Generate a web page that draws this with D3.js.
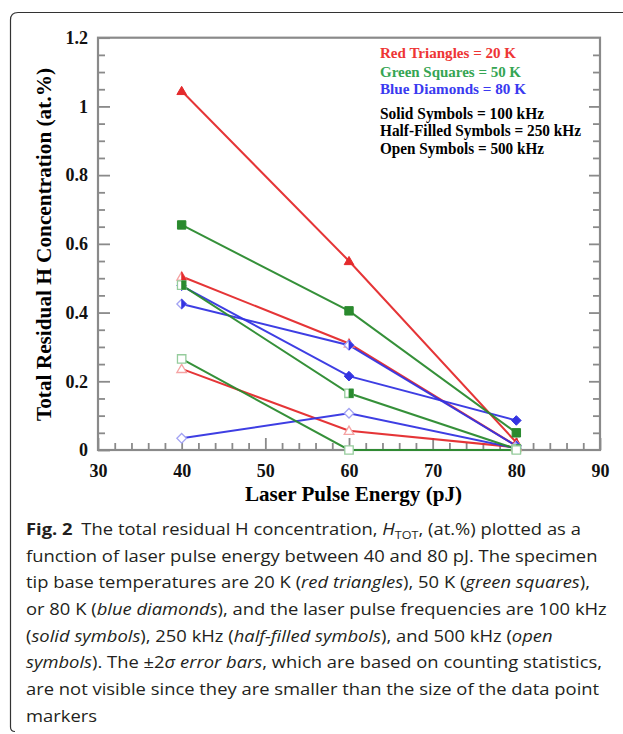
<!DOCTYPE html>
<html>
<head>
<meta charset="utf-8">
<script src="https://cdn.jsdelivr.net/npm/d3@7"></script>
<style>
  html, body { margin: 0; padding: 0; background: #fff; }
  svg { display: block; }
</style>
</head>
<body>
<script>
// ---------- data ----------
const energies = [40, 60, 80];                 // pJ
const red100   = [1.045, 0.55, 0.022];
const red250   = [0.505, 0.31, 0.012];
const red500   = [0.236, 0.056, 0.008];
const green100 = [0.655, 0.405, 0.05];
const green250 = [0.48, 0.165, 0.003];
const green500 = [0.265, 0.0, 0.0];
const blue100  = [0.478, 0.215, 0.086];
const blue250  = [0.425, 0.305, 0.012];
const blue500  = [0.034, 0.107, 0.005];
const xTicks = [30, 40, 50, 60, 70, 80, 90];
const yTicks = [0, 0.2, 0.4, 0.6, 0.8, 1, 1.2];
const legendTemps = ["Red Triangles = 20 K", "Green Squares = 50 K", "Blue Diamonds = 80 K"];
const legendFreqs = ["Solid Symbols = 100 kHz", "Half-Filled Symbols = 250 kHz", "Open Symbols = 500 kHz"];

// ---------- styles ----------
const palette = {
  red:   { line: "#e42a2c", light: "#f5a3a3", text: "#ee3535" },
  green: { line: "#2a8a2e", light: "#95cc9c", text: "#35a553" },
  blue:  { line: "#3434e2", light: "#a3a3f3", text: "#3a3af0" }
};
const series = [
  { v: red100,   c: "red",   shape: "tri", mode: "solid" },
  { v: red250,   c: "red",   shape: "tri", mode: "half" },
  { v: red500,   c: "red",   shape: "tri", mode: "open" },
  { v: blue100,  c: "blue",  shape: "dia", mode: "solid" },
  { v: blue250,  c: "blue",  shape: "dia", mode: "half" },
  { v: blue500,  c: "blue",  shape: "dia", mode: "open" },
  { v: green100, c: "green", shape: "sq",  mode: "solid" },
  { v: green250, c: "green", shape: "sq",  mode: "half" },
  { v: green500, c: "green", shape: "sq",  mode: "open" }
];

const W = 623, H = 734;
const svg = d3.select("body").append("svg").attr("width", W).attr("height", H);

// outer frame (top + left, rounded corner)
svg.append("path")
  .attr("d", "M15,731.5 Q10.5,731.5 10.5,727 L10.5,20 Q10.5,12.5 18,12.5 L623,12.5")
  .attr("fill", "none").attr("stroke", "#333").attr("stroke-width", 1.2);

const x = d3.scaleLinear().domain([30, 90]).range([98, 600]);
const y = d3.scaleLinear().domain([0, 1.2]).range([450, 37.7]);
const axisColor = "#8a8a8a";
const serif = "'Liberation Serif','Times New Roman',serif";

// minor ticks
const yMinor = d3.range(0, 1.2001, 0.05).filter(v => Math.abs((v / 0.2) - Math.round(v / 0.2)) > 1e-6);
const xMinor = d3.range(30, 90.01, 2).filter(v => v % 10 !== 0);

function styleAxis(g) {
  g.select(".domain").remove();
  g.selectAll(".tick line").attr("stroke", axisColor).attr("stroke-width", 1.8);
  g.selectAll(".tick text").attr("font-family", serif).attr("font-weight", "bold")
    .attr("font-size", 18).attr("fill", "#111");
}

// left axis
svg.append("g").attr("transform", `translate(${x(30)},0)`)
  .call(d3.axisLeft(y).tickValues(yMinor).tickSize(-7).tickFormat(""))
  .call(styleAxis);
svg.append("g").attr("transform", `translate(${x(30)},0)`)
  .call(d3.axisLeft(y).tickValues(yTicks).tickSize(-12).tickPadding(10).tickFormat(d => String(d)))
  .call(styleAxis);
// right axis
svg.append("g").attr("transform", `translate(${x(90)},0)`)
  .call(d3.axisRight(y).tickValues(yMinor).tickSize(-7).tickFormat(""))
  .call(styleAxis);
svg.append("g").attr("transform", `translate(${x(90)},0)`)
  .call(d3.axisRight(y).tickValues(yTicks.filter(v => v > 0 && v < 1.2)).tickSize(-11).tickFormat(""))
  .call(styleAxis);
// bottom axis
svg.append("g").attr("transform", `translate(0,${y(0)})`)
  .call(d3.axisBottom(x).tickValues(xMinor).tickSize(-7).tickFormat(""))
  .call(styleAxis);
svg.append("g").attr("transform", `translate(0,${y(0)})`)
  .call(d3.axisBottom(x).tickValues(xTicks).tickSize(-12).tickPadding(14).tickFormat(d => String(d)))
  .call(styleAxis);

// plot frame
svg.append("rect")
  .attr("x", x(30)).attr("y", y(1.2))
  .attr("width", x(90) - x(30)).attr("height", y(0) - y(1.2))
  .attr("fill", "none").attr("stroke", axisColor).attr("stroke-width", 2.2);

// lines
const line = d3.line().x((d, i) => x(energies[i])).y(d => y(d));
series.forEach(s => {
  svg.append("path").attr("d", line(s.v)).attr("fill", "none")
    .attr("stroke", palette[s.c].line).attr("stroke-width", 2).attr("stroke-opacity", 0.95);
});

// markers
function shapePts(shape, cx, cy, half) {
  const r = 4.2;
  if (shape === "tri") {
    const top = [cx, cy - 4.6], bl = [cx - 4.8, cy + 3.6], br = [cx + 4.8, cy + 3.6];
    return half ? [top, br, [cx, cy + 3.6]] : [top, br, bl];
  }
  if (shape === "sq") {
    return half ? [[cx, cy - r], [cx + r, cy - r], [cx + r, cy + r], [cx, cy + r]]
                : [[cx - r, cy - r], [cx + r, cy - r], [cx + r, cy + r], [cx - r, cy + r]];
  }
  const d = 4.8;
  return half ? [[cx, cy - d], [cx + d, cy], [cx, cy + d]]
              : [[cx, cy - d], [cx + d, cy], [cx, cy + d], [cx - d, cy]];
}
const poly = pts => "M" + pts.map(p => p.join(",")).join("L") + "Z";

series.forEach(s => {
  const col = palette[s.c];
  s.v.forEach((val, i) => {
    const cx = x(energies[i]), cy = y(val);
    if (s.mode === "solid") {
      svg.append("path").attr("d", poly(shapePts(s.shape, cx, cy, false)))
        .attr("fill", col.line).attr("stroke", col.line).attr("stroke-width", 1);
    } else {
      svg.append("path").attr("d", poly(shapePts(s.shape, cx, cy, false)))
        .attr("fill", "#fff").attr("stroke", col.light).attr("stroke-width", 1.3);
      if (s.mode === "half") {
        svg.append("path").attr("d", poly(shapePts(s.shape, cx, cy, true)))
          .attr("fill", col.line).attr("stroke", col.line).attr("stroke-width", 0.8);
      }
    }
  });
});

// legend
const legCols = ["red", "green", "blue"];
const legTempY = [58.3, 76.5, 94.3], legTempLen = [136, 141, 146];
legendTemps.forEach((t, i) => {
  svg.append("text").attr("x", 380).attr("y", legTempY[i]).text(t)
    .attr("font-family", serif).attr("font-weight", "bold").attr("font-size", 15.5)
    .attr("fill", palette[legCols[i]].text)
    .attr("textLength", legTempLen[i]).attr("lengthAdjust", "spacingAndGlyphs");
});
const legFreqY = [118.5, 136.2, 154], legFreqLen = [164, 201, 164];
legendFreqs.forEach((t, i) => {
  svg.append("text").attr("x", 380).attr("y", legFreqY[i]).text(t)
    .attr("font-family", serif).attr("font-weight", "bold").attr("font-size", 16)
    .attr("fill", "#000")
    .attr("textLength", legFreqLen[i]).attr("lengthAdjust", "spacingAndGlyphs");
});

// axis titles
svg.append("text").attr("x", 353.5).attr("y", 501).attr("text-anchor", "middle")
  .text("Laser Pulse Energy (pJ)")
  .attr("font-family", serif).attr("font-weight", "bold").attr("font-size", 21).attr("fill", "#000")
  .attr("textLength", 217).attr("lengthAdjust", "spacingAndGlyphs");
svg.append("text").attr("transform", "translate(51,244.5) rotate(-90)").attr("text-anchor", "middle")
  .text("Total Residual H Concentration (at.%)")
  .attr("font-family", serif).attr("font-weight", "bold").attr("font-size", 21).attr("fill", "#000")
  .attr("textLength", 353).attr("lengthAdjust", "spacingAndGlyphs");

// caption
const sans = "'Open Sans','Noto Sans',sans-serif";
const capLines = [
  [["Fig. 2", "b"], ["The total residual H concentration, ", "n", 8], ["H", "i"], ["TOT", "sub"], [", (at.%) plotted as a", "n"]],
  [["function of laser pulse energy between 40 and 80 pJ. The specimen", "n"]],
  [["tip base temperatures are 20 K (", "n"], ["red triangles", "i"], ["), 50 K (", "n"], ["green squares", "i"], ["),", "n"]],
  [["or 80 K (", "n"], ["blue diamonds", "i"], ["), and the laser pulse frequencies are 100 kHz", "n"]],
  [["(", "n"], ["solid symbols", "i"], ["), 250 kHz (", "n"], ["half-filled symbols", "i"], ["), and 500 kHz (", "n"], ["open", "i"]],
  [["symbols", "i"], ["). The \u00B12", "n"], ["\u03C3 error bars", "i"], [", which are based on counting statistics,", "n"]],
  [["are not visible since they are smaller than the size of the data point", "n"]],
  [["markers", "n"]]
];
const capTop = 535, capStep = 26.67;
const capGroups = capLines.map((segs, li) => {
  const g = svg.append("g").attr("transform", `translate(26,${capTop + li * capStep})`);
  const t = g.append("text").attr("x", 0).attr("y", 0)
    .attr("font-family", sans).attr("font-size", 16.8).attr("fill", "#231f20");
  let shifted = false;
  segs.forEach(sg => {
    const ts = t.append("tspan").text(sg[0]);
    if (sg[1] === "b") ts.attr("font-weight", "bold");
    if (sg[1] === "i") ts.attr("font-style", "italic");
    if (sg[2]) ts.attr("dx", sg[2]);
    if (sg[1] === "sub") { ts.attr("font-size", 11.5).attr("dy", 4); shifted = true; }
    else if (shifted) { ts.attr("dy", -4); shifted = false; }
  });
  return { g, t };
});
// fit width uniformly using line 2 as reference
const refW = capGroups[1].t.node().getComputedTextLength();
const sx = 571 / refW;
capGroups.forEach((c, li) => c.g.attr("transform", `translate(26,${capTop + li * capStep}) scale(${sx},1)`));
</script>
</body>
</html>
